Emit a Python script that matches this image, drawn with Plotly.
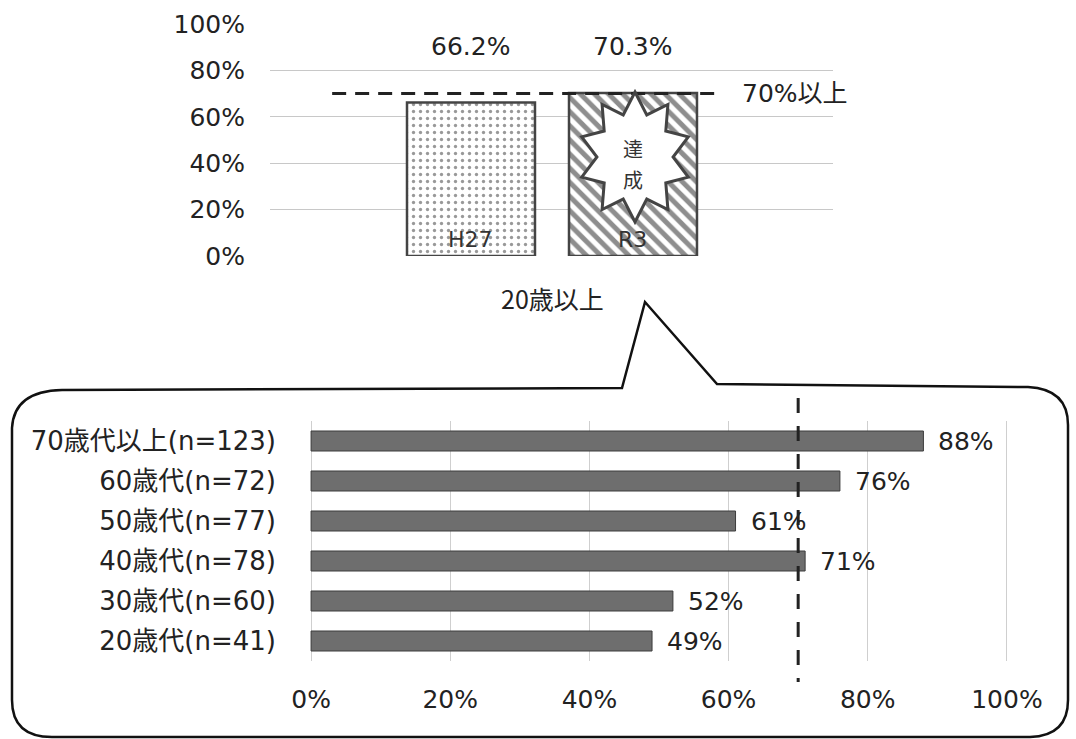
import numpy as np
import plotly.graph_objects as go

# ---- data ----
years = ["H27", "R3"]
overall_rate = [0.662, 0.703]
target_rate = 0.70
target_label = "70%以上"
overall_title = "20歳以上"
badge_chars = ["達", "成"]

age_groups = ["70歳代以上(n=123)", "60歳代(n=72)", "50歳代(n=77)",
              "40歳代(n=78)", "30歳代(n=60)", "20歳代(n=41)"]
age_rate = [0.88, 0.76, 0.61, 0.71, 0.52, 0.49]

W, H = 1076, 739
FONT = "DejaVu Sans, Noto Sans CJK JP, sans-serif"
TXT = "#222222"


def px(x):
    return x / W


def py(y):
    return 1 - y / H


fig = go.Figure()

# ---- upper chart: overall rate by survey year ----
year_pos = list(range(len(years)))
fig.add_trace(go.Bar(
    x=[year_pos[0]], y=[overall_rate[0]], width=0.79,
    marker=dict(color="white", line=dict(color="#444444", width=2.5),
                pattern=dict(shape=".", fgcolor="#333333", bgcolor="white",
                             size=7, solidity=0.18)),
    xaxis="x", yaxis="y", showlegend=False, hoverinfo="skip"))
fig.add_trace(go.Bar(
    x=[year_pos[1]], y=[overall_rate[1]], width=0.79,
    marker=dict(color="white", line=dict(color="#444444", width=2.5),
                pattern=dict(shape="\\", fgcolor="#1e1e1e", bgcolor="white",
                             size=10, solidity=0.5)),
    xaxis="x", yaxis="y", showlegend=False, hoverinfo="skip"))

# ---- lower chart: rate by age group ----
fig.add_trace(go.Bar(
    y=age_groups, x=age_rate, orientation="h", width=0.5,
    marker=dict(color="#6e6e6e", line=dict(color="#3c3c3c", width=1)),
    xaxis="x2", yaxis="y2", showlegend=False, hoverinfo="skip"))

annotations = []
shapes = []

# value labels above the year bars, year names inside
for i, (yr, v) in enumerate(zip(years, overall_rate)):
    annotations.append(dict(x=year_pos[i], y=0.905, xref="x", yref="y",
                            text=f"{v * 100:.1f}%", showarrow=False,
                            yanchor="middle",
                            font=dict(size=25, color=TXT, family=FONT)))
    annotations.append(dict(x=year_pos[i], y=0, xref="x", yref="y",
                            text=yr, showarrow=False, yanchor="bottom", yshift=2,
                            font=dict(size=22, color="#333333", family=FONT)))

# target line in the upper chart
shapes.append(dict(type="line", xref="x", yref="y", x0=-0.857, x1=1.525,
                   y0=target_rate, y1=target_rate,
                   line=dict(color="#222222", width=3, dash="14px,9px")))
annotations.append(dict(x=px(740), y=target_rate, xref="paper", yref="y",
                        text=target_label, showarrow=False, xanchor="left",
                        yanchor="middle",
                        font=dict(size=25, color=TXT, family=FONT)))

# starburst badge on the R3 bar
n_pts = 10
cx, cy, rx, ry = 635, 157, 56, 65
ang = np.linspace(-np.pi / 2, 3 * np.pi / 2, 2 * n_pts, endpoint=False)
rad = np.where(np.arange(2 * n_pts) % 2 == 0, 1.0, 0.68)
sx = cx + rx * rad * np.cos(ang)
sy = cy + ry * rad * np.sin(ang)
star_path = "M " + " L ".join(f"{px(a):.5f},{py(b):.5f}" for a, b in zip(sx, sy)) + " Z"
shapes.append(dict(type="path", xref="paper", yref="paper", path=star_path,
                   fillcolor="white", line=dict(color="#444444", width=3),
                   layer="above"))
for k, ch in enumerate(badge_chars):
    annotations.append(dict(x=px(633), y=py(149 + 30 * k), xref="paper", yref="paper",
                            text=ch, showarrow=False, yanchor="middle", borderpad=0,
                            font=dict(size=20, color="#333333",
                                      family="Noto Sans CJK JP")))

annotations.append(dict(x=px(552), y=py(298), xref="paper", yref="paper",
                        text=overall_title, showarrow=False, yanchor="middle",
                        font=dict(size=25, color=TXT, family="Noto Sans CJK JP")))

# speech bubble around the lower chart
bubble_pts = [
    ("M", [(622, 388)]), ("L", [(645, 302)]), ("L", [(717, 384)]),
    ("L", [(1028, 387)]), ("Q", [(1068, 389), (1068, 425)]),
    ("L", [(1068, 700)]), ("Q", [(1068, 736), (1030, 737)]),
    ("L", [(52, 737)]), ("Q", [(12, 737), (12, 700)]),
    ("L", [(12, 428)]), ("Q", [(14, 391), (62, 390)]),
]
bubble = " ".join(cmd + " " + " ".join(f"{px(a):.5f},{py(b):.5f}" for a, b in pts)
                  for cmd, pts in bubble_pts) + " Z"
shapes.append(dict(type="path", xref="paper", yref="paper", path=bubble,
                   line=dict(color="#111111", width=2.5), layer="below"))

# target line in the lower chart
shapes.append(dict(type="line", xref="x2", yref="paper", x0=target_rate, x1=target_rate,
                   y0=py(398), y1=py(682),
                   line=dict(color="#222222", width=3, dash="15px,13px")))

# value labels for the age bars
for g, v in zip(age_groups, age_rate):
    annotations.append(dict(x=v, y=g, xref="x2", yref="y2", text=f"{v * 100:.0f}%",
                            showarrow=False, xanchor="left", xshift=13,
                            yanchor="middle",
                            font=dict(size=25, color=TXT, family=FONT)))

fig.update_layout(
    width=W, height=H, autosize=False,
    margin=dict(l=0, r=0, t=0, b=0, pad=0),
    paper_bgcolor="white", plot_bgcolor="white",
    font=dict(family=FONT, color=TXT),
    barmode="overlay",
    xaxis=dict(domain=[px(270), px(833)], range=[-1.2407, 2.2346],
               showticklabels=False, showgrid=False, zeroline=False,
               showline=False, fixedrange=True, automargin=False),
    yaxis=dict(domain=[py(256), py(24)], range=[0, 1],
               tickvals=[0, 0.2, 0.4, 0.6, 0.8, 1.0], tickformat=".0%",
               showgrid=True, gridcolor="#c8c8c8", gridwidth=1,
               zeroline=False, showline=False, ticks="",
               ticklabelstandoff=24, automargin=False,
               tickfont=dict(size=25, color=TXT, family=FONT)),
    xaxis2=dict(domain=[px(309), px(1009)], range=[-0.003, 1.003],
                anchor="y2", tickvals=[0, 0.2, 0.4, 0.6, 0.8, 1.0],
                tickformat=".0%", showgrid=True, gridcolor="#cfcfcf",
                gridwidth=1, zeroline=False, showline=False, ticks="",
                ticklabelstandoff=21, automargin=False,
                tickfont=dict(size=25, color=TXT, family=FONT)),
    yaxis2=dict(domain=[py(661), py(421)], anchor="x2",
                categoryorder="array", categoryarray=age_groups[::-1],
                showgrid=False, zeroline=False, showline=False, ticks="",
                ticklabelstandoff=32, automargin=False,
                tickfont=dict(size=26, color=TXT, family=FONT)),
    annotations=annotations,
    shapes=shapes,
)

fig.write_html("out.html")
